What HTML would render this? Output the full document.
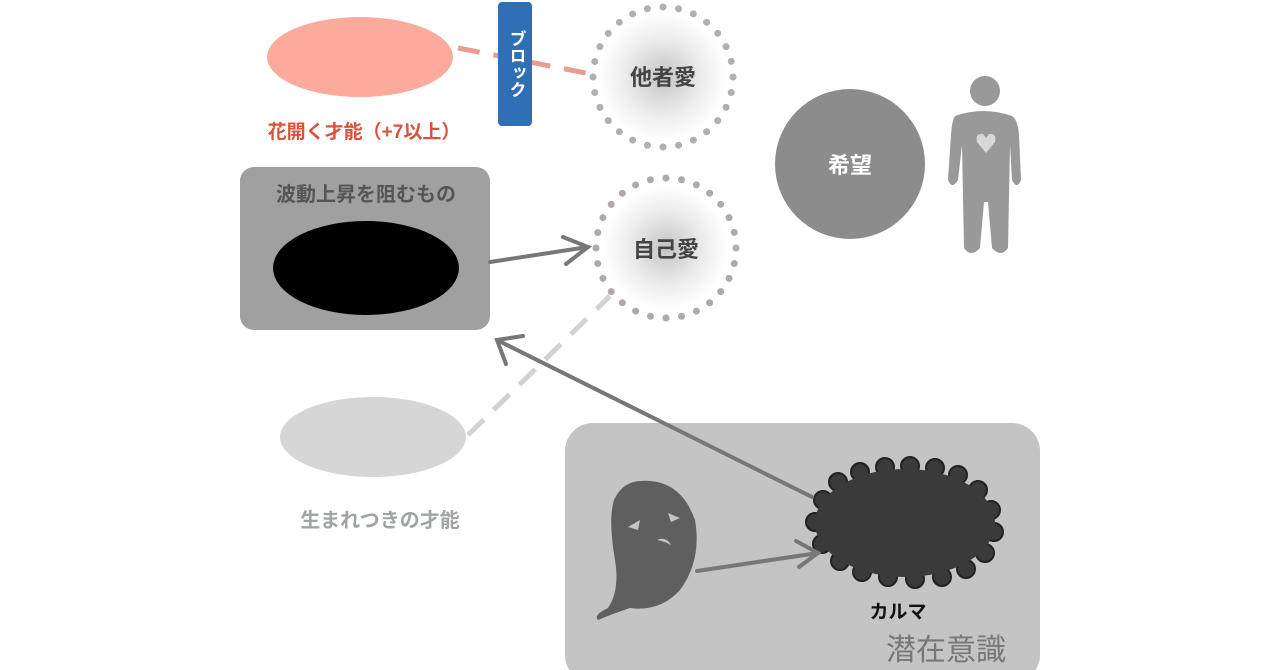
<!DOCTYPE html>
<html><head><meta charset="utf-8"><style>
html,body{margin:0;padding:0;background:#fff;width:1280px;height:670px;overflow:hidden}
text{font-family:"Liberation Sans","Noto Sans CJK JP",sans-serif}
</style></head><body>
<svg width="1280" height="670" viewBox="0 0 1280 670" xmlns="http://www.w3.org/2000/svg">
<defs>
<radialGradient id="g" cx="50%" cy="50%" r="50%">
<stop offset="0" stop-color="#c4c4c4"/><stop offset="0.6" stop-color="#ececec"/><stop offset="1" stop-color="#fff"/>
</radialGradient>
</defs>
<ellipse cx="360" cy="57" rx="93" ry="40" fill="#fcaa9b"/>
<line x1="458" y1="48" x2="596" y2="75" stroke="#eb9b90" stroke-width="5" stroke-dasharray="22,14"/>
<rect x="498" y="2" width="34" height="124" rx="4" fill="#2e6fb5"/>
<text x="515" y="64" fill="#fff" font-size="17" font-weight="bold" text-anchor="middle" dominant-baseline="middle" style="writing-mode:vertical-rl">ブロック</text>
<text x="364" y="138" fill="#d9533c" font-size="19" font-weight="bold" text-anchor="middle">花開く才能（+7以上）</text>
<circle cx="663" cy="77" r="64" fill="url(#g)"/>
<circle cx="663" cy="77" r="70" fill="none" stroke="#b0b0b0" stroke-width="7" stroke-linecap="round" stroke-dasharray="0,15.7"/>
<text x="663" y="85" fill="#444" font-size="22" font-weight="bold" text-anchor="middle">他者愛</text>
<circle cx="666" cy="248" r="62" fill="url(#g)"/>
<circle cx="666" cy="248" r="70" fill="none" stroke="#b0a8ab" stroke-width="7" stroke-linecap="round" stroke-dasharray="0,15.7"/>
<text x="666" y="257" fill="#444" font-size="22" font-weight="bold" text-anchor="middle">自己愛</text>
<circle cx="850" cy="164" r="75" fill="#8c8c8c"/>
<text x="850" y="173" fill="#fff" font-size="22" font-weight="bold" text-anchor="middle">希望</text>
<g fill="#999">
<circle cx="985" cy="91" r="15"/>
<path d="M955 116 Q983 106 1012 116 Q1018 120 1019 135 L1021 180 Q1017 190 1012 180 L1010 145 L1008 248 Q1001 258 992 248 L988 202 L984 202 L980 248 Q971 258 964 248 L962 145 L958 180 Q952 190 948 180 L951 135 Q952 120 955 116 Z"/>
</g>
<path d="M986 153 L977 142 Q975 133 983 134 L986 138 L989 134 Q997 133 995 142 Z" fill="#d8d8d8"/>
<rect x="240" y="167" width="250" height="163" rx="14" fill="#a0a0a0"/>
<text x="366" y="201" fill="#555" font-size="20" font-weight="bold" text-anchor="middle">波動上昇を阻むもの</text>
<ellipse cx="366" cy="268" rx="93" ry="47" fill="#000"/>
<g stroke="#777" stroke-width="4" fill="none" stroke-linecap="round">
<line x1="490" y1="262" x2="588" y2="247"/>
<polyline points="563,237 588,247 566,264"/>
</g>
<ellipse cx="373" cy="437" rx="93" ry="40" fill="#d5d6d5"/>
<line x1="468" y1="435" x2="610" y2="296" stroke="#d0d3d2" stroke-width="5" stroke-dasharray="22,14"/>
<text x="380" y="527" fill="#a0a5a3" font-size="20" font-weight="bold" text-anchor="middle">生まれつきの才能</text>
<rect x="565" y="423" width="475" height="260" rx="28" fill="#c4c4c4"/>
<g fill="#3a3a3a" stroke="#222" stroke-width="2">
<circle cx="823" cy="500" r="9"/><circle cx="838" cy="482" r="9"/><circle cx="860" cy="472" r="9"/><circle cx="885" cy="467" r="9"/><circle cx="910" cy="466" r="9"/><circle cx="935" cy="468" r="9"/><circle cx="958" cy="475" r="9"/><circle cx="978" cy="490" r="9"/><circle cx="991" cy="510" r="9"/><circle cx="994" cy="532" r="9"/><circle cx="985" cy="553" r="9"/><circle cx="966" cy="569" r="9"/><circle cx="942" cy="577" r="9"/><circle cx="915" cy="579" r="9"/><circle cx="888" cy="577" r="9"/><circle cx="862" cy="572" r="9"/><circle cx="840" cy="561" r="9"/><circle cx="822" cy="544" r="9"/><circle cx="815" cy="522" r="9"/>
</g>
<ellipse cx="905" cy="523" rx="90" ry="54" fill="#3a3a3a"/>
<g stroke="#777" stroke-width="4" fill="none" stroke-linecap="round">
<line x1="812" y1="497" x2="497" y2="340"/>
<polyline points="506,364 497,340 523,336"/>
<line x1="697" y1="571" x2="818" y2="553"/>
<polyline points="796,541 818,553 799,567"/>
</g>
<path d="M640 481 Q680 478 695 520 Q702 560 680 590 Q660 612 630 608 Q612 614 598 620 Q593 615 608 608 Q620 590 615 560 Q608 520 614 500 Q622 482 640 481 Z" fill="#5f5f5f"/>
<path d="M628 527 L640 520 L638 530 Z M668 513 L680 518 L671 522 Z M657 540 Q666 536 671 545 Q664 541 657 540 Z" fill="#c4c4c4"/>
<text x="898" y="618" fill="#111" font-size="19" font-weight="bold" text-anchor="middle">カルマ</text>
<text x="946" y="660" fill="#777" font-size="30" text-anchor="middle">潜在意識</text>
</svg>
</body></html>
